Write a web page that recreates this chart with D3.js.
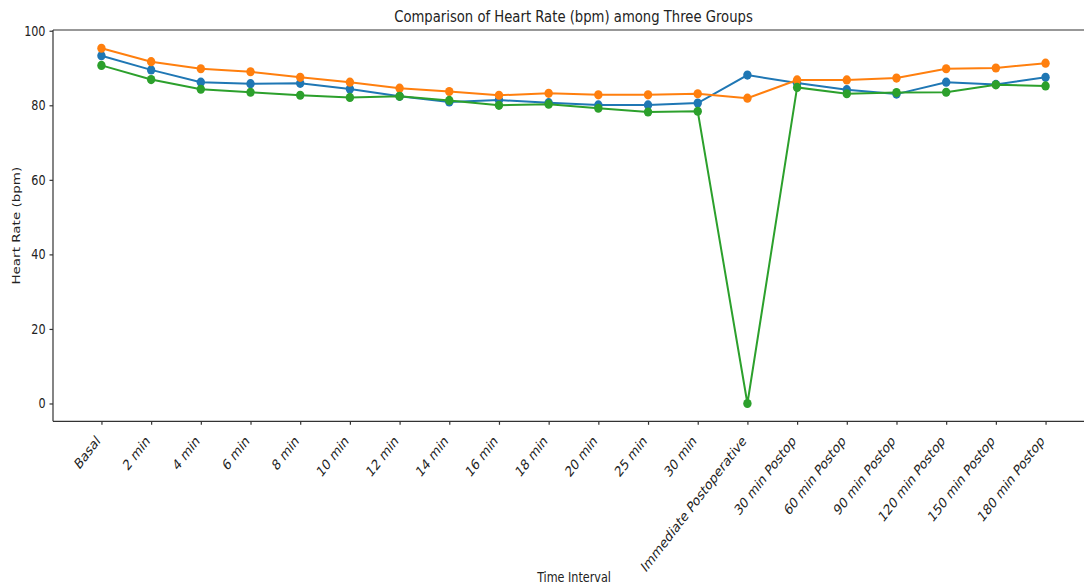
<!DOCTYPE html>
<html lang="en">
<head>
    <meta charset="UTF-8">
    <title>Heart Rate among Three Groups</title>
    <style>
        body { margin: 0; background: #fff; }
        .chartBlock { width: 1084px; height: 587px; overflow: hidden; }
        text { font-family: "DejaVu Sans", sans-serif; fill: #222; }
        .axis path, .axis line { stroke: #333; stroke-width: 1.2; }
        .axis text { font-size: 14px; }
        .xAxis .tick text { font-size: 14.8px; }
    </style>
</head>
<body>
  <div class="chartBlock"></div>

  <script src="https://d3js.org/d3.v7.min.js"></script>
  <script>
    // 資料
    const categories = ['Basal', '2 min', '4 min', '6 min', '8 min', '10 min', '12 min', '14 min',
      '16 min', '18 min', '20 min', '25 min', '30 min', 'Immediate Postoperative',
      '30 min Postop', '60 min Postop', '90 min Postop', '120 min Postop', '150 min Postop', '180 min Postop'];
    const groupA = [93.3, 89.5, 86.2, 85.8, 85.9, 84.4, 82.4, 80.9, 81.4, 80.7, 80.1, 80.1, 80.6, 88.1,
      86.0, 84.2, 83.0, 86.2, 85.6, 87.5];
    const groupB = [95.3, 91.7, 89.8, 89.0, 87.5, 86.2, 84.6, 83.7, 82.7, 83.2, 82.8, 82.8, 83.1, 81.9,
      86.8, 86.8, 87.3, 89.8, 90.0, 91.3];
    const groupC = [90.7, 86.9, 84.3, 83.5, 82.7, 82.1, 82.4, 81.3, 80.0, 80.3, 79.2, 78.2, 78.4, 0,
      84.8, 83.1, 83.4, 83.5, 85.5, 85.2];
    const yTicks = [0, 20, 40, 60, 80, 100];
    const seriesList = [groupA, groupB, groupC];
    const colors = ['#1f77b4', '#ff7f0e', '#2ca02c'];

    // 原圖水平方向被壓縮過，文字一起壓
    const squeeze = 0.8;
    const labelSqueeze = 0.77;

    const drawLineChart = (DOM) => {
      const svgWidth = 1084, svgHeight = 587;
      const left = 53, right = 1094, top = 30, bottom = 421.3;

      const svg = d3.select(DOM).append('svg')
                    .attr('width', svgWidth)
                    .attr('height', svgHeight);

      const xScale = d3.scaleLinear()
                       .domain([-0.975, categories.length - 1 + 0.975])
                       .range([left, right]);

      const yScale = d3.scaleLinear()
                       .domain([-4.78, 100.2])
                       .range([bottom, top]);

      // 上方框線
      svg.append('line')
         .attr('x1', left).attr('x2', right)
         .attr('y1', top).attr('y2', top)
         .attr('stroke', '#333').attr('stroke-width', 1.2);

      // y 軸
      const yAxisGroup = svg.append('g')
         .attr('class', 'axis')
         .attr('transform', `translate(${left},0)`)
         .call(d3.axisLeft(yScale).tickValues(yTicks).tickSize(3.5).tickSizeOuter(0).tickPadding(4))
         .call(g => g.select('.domain').attr('d', `M0,${top}V${bottom}`));

      yAxisGroup.selectAll('.tick text')
         .attr('x', null)
         .attr('transform', `translate(-7.5,0) scale(${squeeze},1)`);

      // x 軸
      const xAxisGroup = svg.append('g')
         .attr('class', 'axis xAxis')
         .attr('transform', `translate(0,${bottom})`)
         .call(d3.axisBottom(xScale)
                 .tickValues(d3.range(categories.length))
                 .tickSize(3.5).tickSizeOuter(0)
                 .tickFormat(i => categories[i]))
         .call(g => g.select('.domain').attr('d', `M${left},0H${right}`));

      xAxisGroup.selectAll('.tick text')
         .attr('text-anchor', 'end')
         .attr('dy', null)
         .attr('y', null)
         .attr('transform', `translate(-1,20.5) scale(${labelSqueeze},1) rotate(-45)`);

      // 折線
      const line = d3.line()
                     .x((d, i) => xScale(i))
                     .y(d => yScale(d));

      seriesList.forEach((values, k) => {
        const g = svg.append('g');
        g.append('path')
         .datum(values)
         .attr('fill', 'none')
         .attr('stroke', colors[k])
         .attr('stroke-width', 2)
         .attr('d', line);
        g.selectAll('ellipse')
         .data(values)
         .join('ellipse')
         .attr('cx', (d, i) => xScale(i))
         .attr('cy', d => yScale(d))
         .attr('rx', 4.2)
         .attr('ry', 4.6)
         .attr('fill', colors[k]);
      });

      // 標題與軸標籤
      svg.append('text')
         .attr('transform', `translate(${(left + right) / 2},22) scale(${squeeze},1)`)
         .attr('text-anchor', 'middle')
         .style('font-size', '16.5px')
         .text('Comparison of Heart Rate (bpm) among Three Groups');

      svg.append('text')
         .attr('transform', `translate(20,${(top + bottom) / 2}) scale(${squeeze},1) rotate(-90)`)
         .attr('text-anchor', 'middle')
         .style('font-size', '13.5px')
         .text('Heart Rate (bpm)');

      svg.append('text')
         .attr('transform', `translate(574,582) scale(${squeeze},1)`)
         .attr('text-anchor', 'middle')
         .style('font-size', '14px')
         .text('Time Interval');
    };

    drawLineChart('.chartBlock');
  </script>
</body>
</html>
